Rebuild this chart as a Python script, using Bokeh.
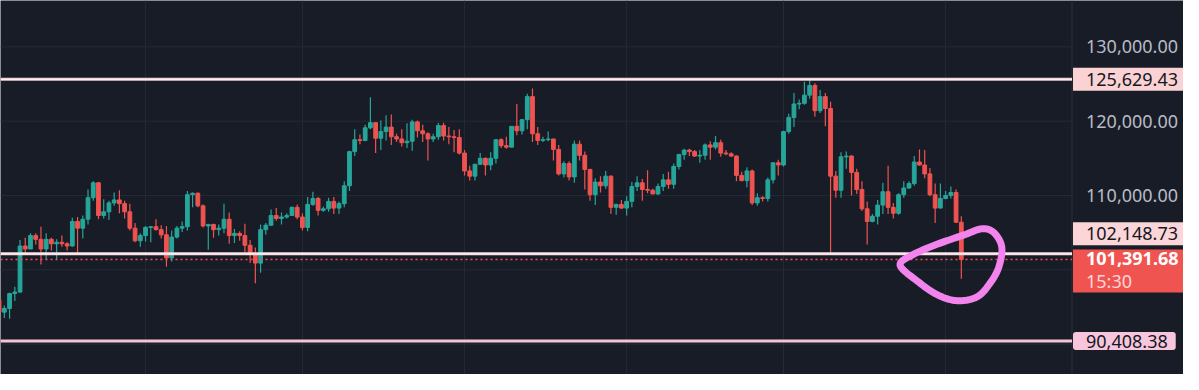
import numpy as np
import pandas as pd
from bokeh.plotting import figure
from bokeh.models import Range1d, Label
from bokeh.embed import file_html
from bokeh.resources import INLINE

# ---------------- data (daily candles, 2025-05-04 .. 2025-11-04) ----------------
start_date = "2025-05-04"

opens = [
    # May
    95900, 94300, 94800, 96800, 97000, 103200, 102800, 104600, 104100, 102800, 104100, 103500, 103700, 103500,
    103200, 106500, 105600, 106800, 109700, 111700, 107300, 107800, 109000, 109400, 108900, 107800, 105600, 103900,
    # June
    104600, 105700, 105800, 105400, 104700, 101600, 104400, 105600, 105800, 110100, 110300, 108600, 105900, 106100,
    105400, 105600, 106800, 104600, 104900, 104600, 103300, 102200, 100900, 105400, 106000, 107300, 106900, 107100,
    107300, 108400,
    # July
    107100, 105700, 108800, 109600, 108000, 108200, 109200, 108300, 108900, 111300, 115900, 117500, 117400, 119100,
    119800, 117700, 118600, 119200, 117900, 117600, 117100, 117300, 119900, 118700, 118300, 117600, 117900, 119400,
    118000, 117900, 117800,
    # August
    115700, 113300, 112600, 114200, 115000, 114100, 115000, 117500, 116700, 116500, 119300, 118700, 120200, 123300,
    118300, 117400, 117500, 117600, 116200, 112900, 114300, 112500, 116900, 115400, 113500, 110100, 111800, 111300,
    112600, 108400, 108800,
    # September
    108300, 109200, 111200, 111700, 110800, 110700, 110200, 111200, 112100, 111500, 113900, 115500, 116100, 115900,
    115300, 115400, 116800, 116500, 117100, 115700, 115600, 115300, 112700, 112000, 113300, 109000, 109700, 109600,
    112100, 114400,
    # October
    114100, 118600, 120500, 122300, 122400, 123500, 124800, 121400, 123300, 121700, 112600, 110700, 115200, 115300,
    113100, 110800, 108200, 106500, 107200, 108700, 110500, 108400, 107600, 110100, 111000, 111600, 114500, 114100,
    112900, 110100, 108300,
    # November
    109600, 110000, 110400, 106400,
]
highs = [
    96300, 95200, 96900, 97700, 104000, 104300, 104900, 104900, 105800, 104900, 104300, 104100, 104600, 103700,
    107000, 107100, 107300, 110800, 111900, 111800, 109500, 109300, 110400, 110700, 109300, 108900, 106300, 104900,
    105900, 105900, 106800, 106000, 105900, 105300, 105900, 106500, 110600, 110400, 110400, 108800, 106200, 106200,
    106100, 108900, 107700, 105500, 105200, 106200, 104000, 103000, 106100, 106300, 108100, 108300, 107700, 107600,
    108500, 108800,
    107600, 109800, 110500, 109800, 108500, 109700, 109800, 109200, 111900, 116000, 118900, 118200, 119500, 123200,
    119900, 120100, 120800, 120900, 118300, 118900, 119700, 120200, 120100, 119500, 118500, 118300, 119800, 119800,
    119200, 118800, 118900,
    116100, 114000, 114200, 115700, 115100, 115800, 117600, 117700, 117900, 119300, 122300, 120300, 123700, 124400,
    119200, 117900, 118600, 117600, 116800, 114600, 114600, 117400, 117400, 115900, 113600, 112300, 112600, 113300,
    112700, 108900, 109400,
    109900, 111800, 112600, 112200, 113400, 110900, 111600, 112900, 113200, 114300, 115600, 116300, 116300, 116100,
    116100, 117000, 117300, 118000, 117500, 116100, 115800, 115400, 113200, 113800, 113500, 110300, 109900, 112400,
    114400, 114800,
    118700, 121000, 123800, 122900, 125300, 125629.43, 125100, 124200, 123800, 122600, 113300, 115800, 115900, 115400,
    113600, 111900, 109200, 107500, 109400, 111700, 114000, 109000, 110300, 111900, 111900, 115300, 116200, 116100,
    113700, 111600, 111600,
    110600, 111200, 110800, 107200,
]
lows = [
    94100, 93500, 93400, 95800, 96900, 102200, 102800, 103400, 100700, 101400, 102600, 101400, 103100, 102600,
    103100, 102100, 104200, 106100, 109300, 106800, 106900, 106700, 108600, 107600, 106900, 105300, 103700, 103100,
    103800, 103700, 105300, 104200, 100400, 101100, 104200, 105100, 105300, 108400, 108400, 105700, 102700, 104300,
    104600, 104900, 103500, 103600, 103900, 102400, 100900, 98200, 99600, 104700, 105900, 106600, 106100, 106900,
    107300, 106800,
    105300, 105200, 108600, 107300, 107800, 107800, 107500, 107500, 108400, 110600, 115300, 116900, 117300, 118900,
    115700, 116100, 117400, 116800, 117200, 116600, 116400, 116000, 117800, 117200, 114700, 117200, 117500, 117400,
    116900, 115800, 115500,
    112700, 112000, 112000, 114100, 112700, 113400, 114300, 116400, 116300, 116500, 118100, 118200, 118900, 117200,
    116800, 117200, 117300, 114700, 112700, 112400, 112000, 111700, 114700, 110800, 109300, 108700, 110400, 110900,
    107500, 107400, 108200,
    107300, 108400, 110600, 109300, 110300, 110200, 110100, 110600, 110900, 110900, 113500, 114800, 115300, 115200,
    114400, 114800, 114800, 116200, 115200, 115400, 115200, 111900, 111900, 111100, 108700, 108600, 109200, 109200,
    111600, 112700,
    113900, 118300, 119200, 121600, 122200, 123000, 120600, 121100, 119300, 102148.73, 109700, 109700, 113600, 110000,
    110200, 107900, 103400, 106400, 106100, 107500, 107500, 106900, 107400, 109700, 110900, 111300, 114000, 112300,
    109900, 106300, 108300,
    109500, 109600, 106300, 98800,
]
closes = [
    94300, 94800, 96800, 97000, 103200, 102800, 104600, 104100, 102800, 104100, 103500, 103700, 103500, 103200,
    106500, 105600, 106800, 109700, 111700, 107300, 107800, 109000, 109400, 108900, 107800, 105600, 103900, 104600,
    105700, 105800, 105400, 104700, 101600, 104400, 105600, 105800, 110100, 110300, 108600, 105900, 106100, 105400,
    105600, 106800, 104600, 104900, 104600, 103300, 102200, 100900, 105400, 106000, 107300, 106900, 107100, 107300,
    108400, 107100,
    105700, 108800, 109600, 108000, 108200, 109200, 108300, 108900, 111300, 115900, 117500, 117400, 119100, 119800,
    117700, 118600, 119200, 117900, 117600, 117100, 117300, 119900, 118700, 118300, 117600, 117900, 119400, 118000,
    117900, 117800, 115700,
    113300, 112600, 114200, 115000, 114100, 115000, 117500, 116700, 116500, 119300, 118700, 120200, 123300, 118300,
    117400, 117500, 117600, 116200, 112900, 114300, 112500, 116900, 115400, 113500, 110100, 111800, 111300, 112600,
    108400, 108800, 108300,
    109200, 111200, 111700, 110800, 110700, 110200, 111200, 112100, 111500, 113900, 115500, 116100, 115900, 115300,
    115400, 116800, 116500, 117100, 115700, 115600, 115300, 112700, 112000, 113300, 109000, 109700, 109600, 112100,
    114400, 114100,
    118600, 120500, 122300, 122400, 123500, 124800, 121400, 123300, 121700, 112600, 110700, 115200, 115300, 113100,
    110800, 108200, 106500, 107200, 108700, 110500, 108400, 107600, 110100, 111000, 111600, 114500, 114100, 112900,
    110100, 108300, 109600,
    110000, 110400, 106400, 101391.68,
]

month_starts = ["2025-05-01", "2025-06-01", "2025-07-01", "2025-08-01", "2025-09-01",
                "2025-10-01", "2025-11-01"]
grid_levels = [80000, 90000, 100000, 110000, 120000, 130000, 140000]
axis_ticks = [110000, 120000, 130000]

level_top = 125629.43      # resistance line
level_mid = 102148.73      # support line
level_low = 90408.38       # lower support line
last_price = closes[-1]
countdown = "15:30"

# ---------------- style / layout ----------------
BG = "#181c27"
GRID = "#262a35"
UP = "#26a69a"
DOWN = "#ef5350"
AXIS_TXT = "#b8bbc4"
FONT = "Noto Sans"
DAY_MS = 86400000.0
W, H = 1183, 374

# scale of the chart in reference-pixel terms (picture 1199 x 390)
PX_PER_DAY = 5.30
PX_PER_USD = 0.00775
REF_DATE = pd.Timestamp("2025-06-01")
REF_DATE_PX = 147.0
REF_PRICE = 110000.0
REF_PRICE_PX = 203.3
REF_W, REF_H = 1199.0, 390.0
SCALE_EDGE_PX = 1086.0     # left edge of the price scale

ref_ms = REF_DATE.value / 1e6


def x_at(px):
    return ref_ms + (px - REF_DATE_PX) / PX_PER_DAY * DAY_MS


def y_at(py):
    return REF_PRICE + (REF_PRICE_PX - py) / PX_PER_USD


x_start, x_end, x_edge = x_at(0.0), x_at(REF_W), x_at(SCALE_EDGE_PX)
y_top, y_bot = y_at(0.0), y_at(REF_H)

dates = pd.date_range(start_date, periods=len(opens), freq="D")
xs = dates.asi8 / 1e6
o = np.array(opens, float)
h = np.array(highs, float)
l = np.array(lows, float)
c = np.array(closes, float)
colors = [UP if cc >= oo else DOWN for oo, cc in zip(o, c)]

p = figure(width=W, height=H, x_axis_location=None, y_axis_location=None,
           x_range=Range1d(x_start, x_end), y_range=Range1d(y_bot, y_top),
           toolbar_location=None, output_backend="svg",
           background_fill_color=BG, border_fill_color=BG, outline_line_color=None,
           min_border_left=0, min_border_right=0, min_border_top=0, min_border_bottom=0)
p.grid.visible = False

# grid lines, limited to the chart pane
month_ms = [pd.Timestamp(m).value / 1e6 for m in month_starts]
p.segment(x0=month_ms, x1=month_ms, y0=[y_bot] * len(month_ms), y1=[y_top] * len(month_ms),
          line_color=GRID, line_width=1)
p.segment(x0=[x_start] * len(grid_levels), x1=[x_edge] * len(grid_levels), y0=grid_levels, y1=grid_levels,
          line_color=GRID, line_width=1)

# price-scale border
p.segment(x0=[x_edge], x1=[x_edge], y0=[y_bot], y1=[y_top], line_color="#2a2e39", line_width=1)

# candles
p.segment(x0=xs, y0=l, x1=xs, y1=h, line_color=colors, line_width=1.2)
p.vbar(x=xs, width=0.72 * DAY_MS, top=np.maximum(o, c), bottom=np.minimum(o, c),
       fill_color=colors, line_color=colors, line_width=1)

# level lines across the chart pane
p.segment(x0=[x_start] * 3, x1=[x_edge] * 3, y0=[level_top, level_mid, level_low],
          y1=[level_top, level_mid, level_low],
          line_color=["#f6cdd4", "#f4d9de", "#f5c4d4"], line_width=[3, 3, 3])
p.segment(x0=[x_start] * 2, x1=[x_edge] * 2, y0=[level_top, level_mid], y1=[level_top, level_mid],
          line_color="#fff4f6", line_width=1)
p.segment(x0=[x_start], x1=[x_edge], y0=[last_price], y1=[last_price],
          line_color="#f0504d", line_width=1.6, line_dash="2 3")

# hand-drawn loop around the last candle (offsets in reference px from the last close)
loop_px = [(-62, 6), (-49, -5), (-24, -16), (4, -26), (21, -32), (33, -28), (41, -13),
           (38, 8), (29, 25), (16, 39), (-4, 43), (-24, 37), (-44, 23)]


def closed_smooth(pts, n=14):
    P = np.array(pts, float)
    m = len(P)
    out = []
    for i in range(m):
        p0, p1, p2, p3 = P[i - 1], P[i], P[(i + 1) % m], P[(i + 2) % m]
        for t in np.linspace(0, 1, n, endpoint=False):
            t2, t3 = t * t, t * t * t
            out.append(0.5 * (2 * p1 + (-p0 + p2) * t + (2 * p0 - 5 * p1 + 4 * p2 - p3) * t2
                              + (-p0 + 3 * p1 - 3 * p2 + p3) * t3))
    out.append(out[0])
    return np.array(out)


sm = closed_smooth(loop_px)
loop_x = xs[-1] + sm[:, 0] / PX_PER_DAY * DAY_MS
loop_y = last_price - sm[:, 1] / PX_PER_USD
p.line(loop_x, loop_y, line_color="#f384ee", line_width=7, line_cap="round", line_join="round",
       level="overlay")

# price-scale tick labels
for t in axis_ticks:
    p.add_layout(Label(x=x_edge, y=t, x_offset=14, text=f"{t:,.2f}", text_font=FONT,
                       text_font_size="18px", text_color=AXIS_TXT, text_align="left",
                       text_baseline="middle"))


def price_label(y, text, bg, fg, y_off=0, bold=False, pad=None, radius=0):
    p.add_layout(Label(x=x_edge, y=y, x_offset=1, y_offset=y_off, text=text, text_font=FONT,
                       text_font_size="18px", text_color=fg, text_align="left", text_baseline="middle",
                       text_font_style="bold" if bold else "normal",
                       background_fill_color=bg, border_line_color=None,
                       padding=pad or dict(left=13, right=10, top=5, bottom=5), border_radius=radius))


price_label(level_top, f"{level_top:,.2f}", "#fbd2d4", "#131722")
price_label(level_mid, f"{level_mid:,.2f}", "#fbd5d7", "#131722", y_off=20)
price_label(last_price, f"{last_price:,.2f}", "#f05451", "#ffffff", bold=True, y_off=-11.5,
            pad=dict(left=13, right=10, top=3, bottom=27))
p.add_layout(Label(x=x_edge, y=last_price, x_offset=14, y_offset=-22, text=countdown, text_font=FONT,
                   text_font_size="18px", text_color="#ffd6d6", text_align="left",
                   text_baseline="middle"))
price_label(level_low, f"{level_low:,.2f}", "#f7c6dc", "#131722", radius=3,
            pad=dict(left=13, right=8, top=3, bottom=2))

open("out.html", "w").write(file_html(p, INLINE))
